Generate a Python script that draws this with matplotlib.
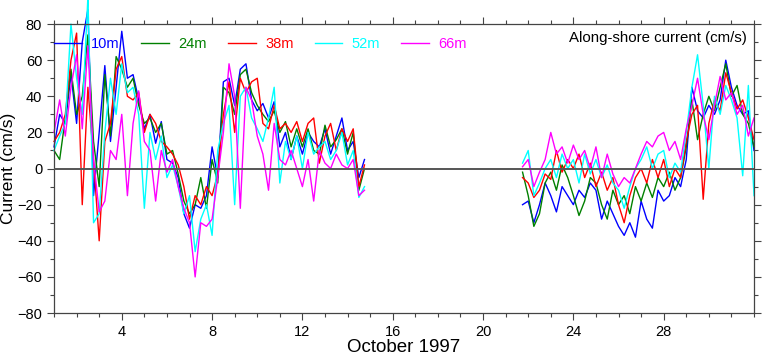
import numpy as np
import matplotlib
matplotlib.use("Agg")
import matplotlib.pyplot as plt
from matplotlib.ticker import MultipleLocator

# Sample times (day of October 1997), one value every 6 hours
t_first = np.linspace(1.0, 14.75, 56)
t_second = np.linspace(21.75, 32.0, 42)

depths = ["10m", "24m", "38m", "52m", "66m"]
colors = ["#0000ff", "#008000", "#ff0000", "#00ffff", "#ff00ff"]

# Along-shore current (cm/s), first deployment piece
cur_10m_a = [12, 30, 25, 52, 25, 70, 88, -15, 20, 57, 15, 45, 76, 50, 52, 38,
             22, 30, 14, 26, 5, 3, -5, -25, -33, -20, -22, -15, 12, -5, 48, 50,
             35, 55, 58, 38, 32, 36, 28, 37, 12, 20, 5, 18, 8, 20, 15, 12,
             22, 8, 18, 28, 10, 15, -5, 5]
cur_24m_a = [10, 5, 28, 55, 30, 40, 74, 15, -10, 52, 18, 62, 55, 45, 50, 35,
             25, 28, 20, 25, 8, 10, -3, -18, -25, -20, -5, -22, 5, -8, 45, 42,
             30, 52, 55, 42, 35, 30, 26, 32, 20, 26, 12, 22, 12, 22, 10, 8,
             24, 12, 16, 22, 8, 20, -12, 0]
cur_38m_a = [15, 20, 30, 60, 75, -20, 45, 5, -40, 15, 25, 55, 62, 40, 38, 42,
             20, 30, 25, 15, 12, 8, 2, -10, -28, -15, -20, -10, -15, -3, 30, 48,
             20, 50, 42, 48, 50, 25, 22, 35, 22, 25, 20, 26, 15, 25, 28, 3,
             18, 25, 10, 22, 15, 22, -10, 2]
cur_52m_a = [10, 18, 25, 80, 50, 30, 95, -30, -25, 20, 50, 30, 58, 42, 45, 30,
             -22, 20, 5, 18, -5, 2, -10, -25, -15, -46, -28, -20, -37, 10, 25, 35,
             -20, 40, 45, 28, 22, 15, 28, 45, -8, 15, 5, 18, 0, 20, 8, 12,
             15, 5, 10, 20, 2, 10, -16, -10]
cur_66m_a = [20, 38, 18, 45, 63, 22, 68, 5, -24, -18, 10, 5, 30, -15, 25, 43,
             15, 10, -18, 10, -2, 5, -10, -22, -30, -60, -30, -32, -28, -5, 20, 58,
             40, -22, 45, 38, 18, 8, -12, 25, 5, 2, 10, 0, -10, 5, -18, 10,
             3, 0, 8, 2, 0, 5, -15, -12]

# second deployment piece
cur_10m_b = [-20, -18, -30, -20, -8, -15, -24, -10, -15, -20, -12, -16, -8, -12,
             -28, -18, -25, -32, -37, -30, -38, -18, -28, -33, -12, -18, -15, -5,
             -10, 5, 45, 32, 28, 35, 30, 38, 60, 45, 35, 30, 32, 10]
cur_24m_b = [-2, -15, -32, -25, -8, -2, -12, 2, -5, -15, -26, -18, -5, -8,
             -20, -28, -12, -20, -15, -25, -10, -18, -8, -16, -5, -10, -2, -12,
             -5, 12, 38, 16, 30, 40, 32, 45, 58, 40, 46, 30, 25, 12]
cur_38m_b = [-5, -8, -16, -12, -3, -6, 10, -2, 5, 0, 8, -5, 3, -10,
             -2, -12, -5, -20, -30, -15, -5, 0, -8, 5, -5, 5, -10, 0,
             -5, 15, 30, 35, -17, 25, 38, 32, 53, 42, 33, 38, 28, 16]
cur_52m_b = [3, 10, -15, -8, 0, 5, -5, 8, 0, 5, -8, 8, -3, 5,
             -5, 2, -8, -12, -22, -10, 0, 5, 12, 0, 8, 10, -5, 3,
             -2, 20, 45, 63, 35, 0, 40, 30, 46, 38, 28, -4, 46, -15]
cur_66m_b = [1, 5, -10, -2, 5, 20, 8, 12, 3, 13, 5, 10, 0, 12,
             -5, 8, -3, -10, -5, -8, 0, 8, 15, 12, 18, 20, 10, 15,
             5, 22, 35, 50, 30, 16, 35, 51, 38, 42, 30, 35, 18, 28]

series_a = [cur_10m_a, cur_24m_a, cur_38m_a, cur_52m_a, cur_66m_a]
series_b = [cur_10m_b, cur_24m_b, cur_38m_b, cur_52m_b, cur_66m_b]


def plot_currents():
    plt.rcParams["font.family"] = ["Liberation Sans", "DejaVu Sans"]

    fig = plt.figure(figsize=(7.62, 3.59), dpi=100)
    ax = fig.add_axes([0.0709, 0.128, 0.9186, 0.805])

    # one line per depth, both pieces with the same style (peaks run past the frame)
    for name, col, ya, yb in zip(depths, colors, series_a, series_b):
        ax.plot(t_first, ya, color=col, lw=1.0, label=name, clip_on=False)
        ax.plot(t_second, yb, color=col, lw=1.0, clip_on=False)

    # zero line
    ax.axhline(0, color="#555555", lw=1.4, zorder=5)

    ax.set_xlim(1, 32)
    ax.set_ylim(-80, 80)
    ax.set_xticks(range(4, 32, 4))
    ax.xaxis.set_minor_locator(MultipleLocator(1))
    ax.yaxis.set_major_locator(MultipleLocator(20))
    ax.yaxis.set_minor_locator(MultipleLocator(10))

    for s in ax.spines.values():
        s.set_color("#444444")
        s.set_linewidth(0.9)
    ax.tick_params(which="both", direction="out", top=True, right=True,
                   color="#444444", width=0.8, labelsize=10.5)
    ax.tick_params(which="major", length=5)
    ax.tick_params(which="minor", length=3)

    ax.set_xlabel("October 1997", fontsize=13.5, labelpad=0)
    ax.set_ylabel("Current (cm/s)", fontsize=12.5, labelpad=1)

    # legend across the top
    ax.legend(loc="upper left", bbox_to_anchor=(0.0, 0.955), ncol=5,
              frameon=False, fontsize=10.5, handlelength=1.9,
              handletextpad=0.65, columnspacing=1.45, borderpad=0,
              borderaxespad=0, labelcolor="linecolor")

    ax.text(0.99, 0.952, "Along-shore current (cm/s)", transform=ax.transAxes,
            ha="right", va="center", fontsize=10.8)

    fig.savefig("out.png", dpi=100)


if __name__ == "__main__":
    plot_currents()
